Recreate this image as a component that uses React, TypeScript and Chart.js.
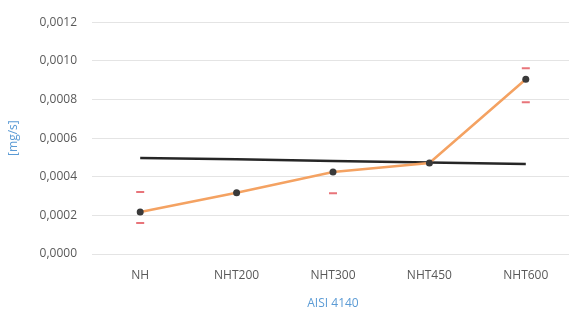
import React, { useEffect, useRef } from "react";
import { Chart, registerables } from "chart.js";

Chart.register(...registerables);

const categories = ["NH", "NHT200", "NHT300", "NHT450", "NHT600"];
const wearRate = [0.000217, 0.000317, 0.000424, 0.000471, 0.000905];
const errUpper = [0.000321, null, 0.000482, null, 0.000962];
const errLower = [0.00016, null, 0.000315, null, 0.000786];
const referenceLine = [0.000497, 0.00049, 0.000482, 0.000474, 0.000466];
const yTicks = { min: 0, max: 0.0012, step: 0.0002 };
const yTitle = "[mg/s]";
const xTitle = "AISI 4140";

const FONT = "'Open Sans', 'Liberation Sans', sans-serif";

export default function App() {
  const ref = useRef<HTMLCanvasElement | null>(null);

  useEffect(() => {
    if (!ref.current) return;
    const chart = new Chart(ref.current, {
      type: "line",
      data: {
        labels: categories,
        datasets: [
          {
            label: "ref",
            data: referenceLine,
            borderColor: "#262626",
            borderWidth: 2.5,
            pointRadius: 0,
            order: 1,
          },
          {
            label: "upper",
            data: errUpper,
            showLine: false,
            pointStyle: "line",
            pointRadius: 4,
            borderColor: "#E8747A",
            borderWidth: 2,
            order: 3,
          },
          {
            label: "lower",
            data: errLower,
            showLine: false,
            pointStyle: "line",
            pointRadius: 4,
            borderColor: "#E8747A",
            borderWidth: 2,
            order: 3,
          },
          {
            label: "wear",
            data: wearRate,
            borderColor: "#F4A262",
            borderWidth: 2.5,
            pointRadius: 3.5,
            pointBackgroundColor: "#3a3a3a",
            pointBorderColor: "#3a3a3a",
            pointBorderWidth: 0,
            order: 0,
          },
        ],
      },
      options: {
        animation: false,
        responsive: false,
        maintainAspectRatio: false,
        layout: { padding: { top: 16, right: 26, bottom: 0, left: 0 } },
        plugins: { legend: { display: false }, tooltip: { enabled: false } },
        scales: {
          x: {
            offset: true,
            grid: { display: false, drawTicks: false, offset: true },
            border: { display: false },
            ticks: { color: "#595959", font: { family: FONT, size: 12 }, padding: 14 },
            title: {
              display: true,
              text: xTitle,
              color: "#5B9BD5",
              font: { family: FONT, size: 12 },
              padding: { top: 4, bottom: 0 },
            },
            afterFit: (s: any) => {
              s.height = 57;
            },
          },
          y: {
            min: yTicks.min,
            max: yTicks.max,
            grid: { color: "#e4e4e4", lineWidth: 1, drawTicks: false },
            border: { display: false },
            ticks: {
              stepSize: yTicks.step,
              color: "#595959",
              font: { family: FONT, size: 12 },
              padding: 15,
              callback: (v: any) => Number(v).toFixed(4).replace(".", ","),
            },
            title: {
              display: true,
              text: yTitle,
              color: "#5B9BD5",
              font: { family: FONT, size: 12 },
              padding: { top: 6, bottom: 0 },
            },
            afterFit: (s: any) => {
              s.width = 92;
            },
          },
        },
      },
    });
    return () => chart.destroy();
  }, []);

  return (
    <div
      style={{
        position: "fixed",
        left: 0,
        top: 0,
        width: 569,
        height: 311,
        overflow: "hidden",
        background: "#fff",
      }}
    >
      <canvas ref={ref} width={600} height={311} style={{ display: "block" }} />
    </div>
  );
}
